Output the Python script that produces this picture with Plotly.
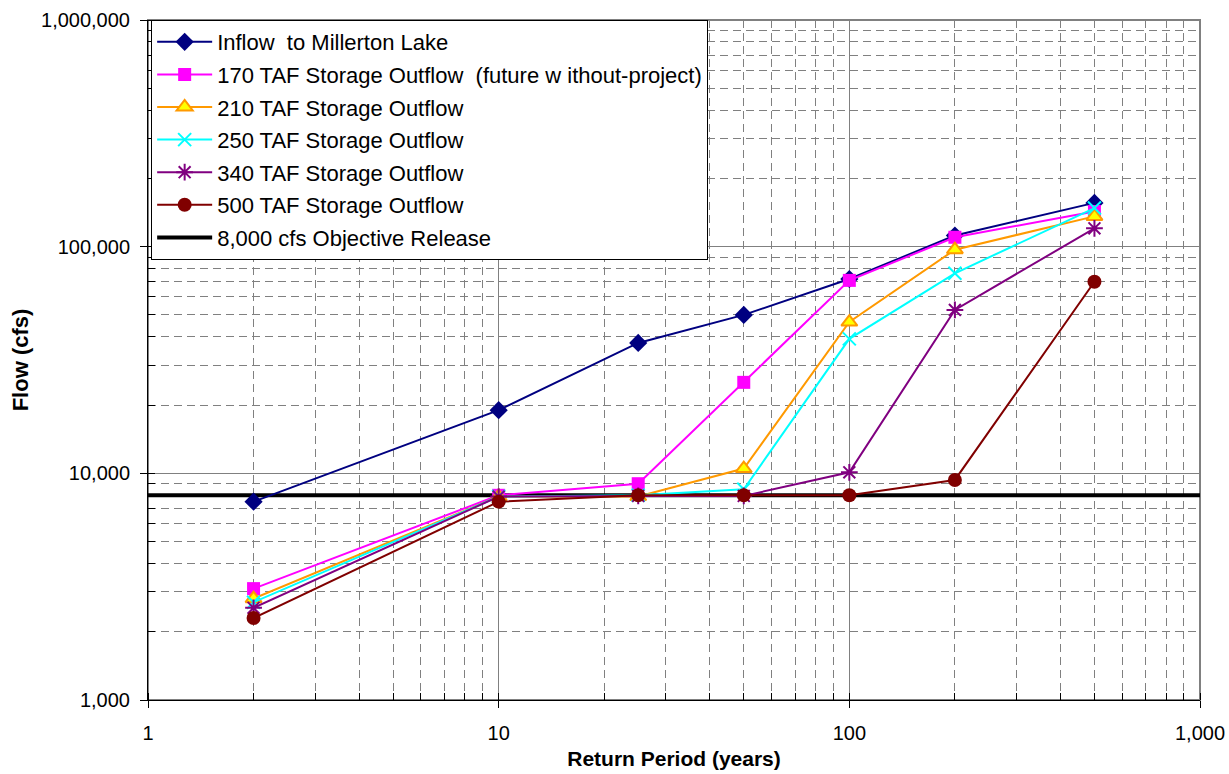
import plotly.graph_objects as go

return_period = [2, 10, 25, 50, 100, 200, 500]
inflow = [7500, 19000, 37600, 50000, 72000, 112000, 156000]
taf170 = [3100, 8000, 9000, 25200, 71000, 110000, 143000]
taf210 = [2800, 7900, 7900, 10500, 46500, 97000, 136000]
taf250 = [2700, 7900, 8000, 8500, 39200, 76300, 148000]
taf340 = [2550, 7900, 7950, 7950, 10100, 52600, 120500]
taf500 = [2300, 7500, 8000, 8000, 8000, 9350, 70000]
objective_x = [1, 1000]
objective_y = [8000, 8000]

FONT = "Liberation Sans, Arial, sans-serif"

fig = go.Figure()

fig.add_trace(go.Scatter(
    x=objective_x, y=objective_y, mode="lines", name="8,000 cfs Objective Release",
    line=dict(color="black", width=4), legendrank=7, legendgroup="g7"))

series = [
    ("Inflow  to Millerton Lake", inflow, "#000080",
     dict(symbol="diamond", size=14, color="#000080")),
    ("170 TAF Storage Outflow  (future w ithout-project)", taf170, "#FF00FF",
     dict(symbol="square", size=13, color="#FF00FF")),
    ("210 TAF Storage Outflow", taf210, "#FF9900",
     dict(symbol="triangle-up", size=14, color="#FFFF00", line=dict(color="#FF9900", width=2))),
    ("250 TAF Storage Outflow", taf250, "#00FFFF",
     dict(symbol="x-thin", size=13, color="#00FFFF", line=dict(color="#00FFFF", width=2))),
    ("340 TAF Storage Outflow", taf340, "#800080",
     dict(symbol="asterisk", size=14, color="#800080", line=dict(color="#800080", width=2))),
    ("500 TAF Storage Outflow", taf500, "#800000",
     dict(symbol="circle", size=14, color="#800000")),
]
for i, (name, ys, col, mk) in enumerate(series):
    fig.add_trace(go.Scatter(
        x=return_period, y=ys, mode="lines+markers", name=name,
        line=dict(color=col, width=2), marker=mk, legendrank=i + 1,
        legendgroup="g%d" % i))

grid_gray = "#808080"
fig.update_layout(
    width=1229, height=774,
    margin=dict(l=148, r=29, t=20, b=74),
    paper_bgcolor="white", plot_bgcolor="white",
    font=dict(family=FONT, size=20, color="black"),
    showlegend=True,
    legend=dict(x=0.003, y=1, xanchor="left", yanchor="top",
                bgcolor="white", bordercolor="black", borderwidth=1,
                font=dict(family=FONT, size=22, color="black"),
                itemwidth=55, tracegroupgap=1),
    xaxis=dict(
        type="log", range=[0, 3], dtick=1, tickformat=",", automargin=False,
        showgrid=True, gridcolor=grid_gray, gridwidth=1,
        ticks="outside", ticklen=7, tickcolor="black",
        showline=True, linecolor="black", linewidth=1,
        zeroline=False, ticklabelstandoff=8,
        tickfont=dict(family=FONT, size=20, color="black"),
        minor=dict(dtick="D1", showgrid=True, gridcolor=grid_gray,
                   griddash="8px,5px", gridwidth=1,
                   ticks="inside", ticklen=7, tickcolor="black"),
        title=dict(text="<b>Return Period (years)</b>", standoff=8,
                   font=dict(family=FONT, size=21, color="black")),
    ),
    yaxis=dict(
        type="log", range=[3, 6], dtick=1, tickformat=",", automargin=False,
        showgrid=True, gridcolor=grid_gray, gridwidth=1,
        ticks="outside", ticklen=7, tickcolor="black",
        showline=True, linecolor="black", linewidth=1,
        zeroline=False, ticklabelstandoff=6,
        tickfont=dict(family=FONT, size=20, color="black"),
        minor=dict(dtick="D1", showgrid=True, gridcolor=grid_gray,
                   griddash="8px,5px", gridwidth=1,
                   ticks="inside", ticklen=7, tickcolor="black"),
        title=dict(text="<b>Flow (cfs)</b>", standoff=6,
                   font=dict(family=FONT, size=22, color="black")),
    ),
    shapes=[dict(type="rect", xref="paper", yref="paper", x0=0, y0=0, x1=1, y1=1,
                 line=dict(color=grid_gray, width=2), layer="below")],
)

fig.write_html("out.html")
